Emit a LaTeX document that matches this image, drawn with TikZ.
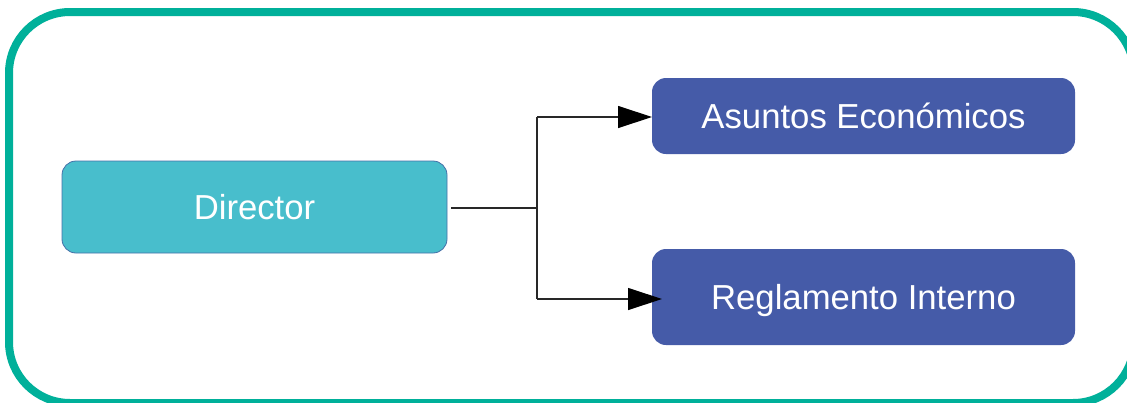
\documentclass[tikz,border=0pt]{standalone}
\usepackage{fontspec}
\setmainfont{Liberation Sans}
\usetikzlibrary{arrows.meta}
\definecolor{frameteal}{RGB}{0,176,154}
\definecolor{directorfill}{RGB}{72,190,204}
\definecolor{directorline}{RGB}{70,112,168}
\definecolor{unitblue}{RGB}{69,91,168}
\definecolor{linkgray}{RGB}{40,40,40}
\tikzset{
  boxbase/.style={rectangle, rounded corners=14pt, inner sep=0pt, outer sep=0pt,
    text=white, font=\fontsize{34.7}{40}\selectfont},
  directorbox/.style={boxbase, fill=directorfill, draw=directorline, line width=0.8pt,
    minimum width=385pt, minimum height=92pt},
  unitbox/.style={boxbase, fill=unitblue, minimum width=423pt},
  link/.style={draw=linkgray, line width=1.2pt},
  arrowlink/.style={link, -{Triangle[length=34pt,width=22pt,color=black,fill=black]}}
}
\begin{document}
\begin{tikzpicture}[x=1pt,y=-1pt]
  \useasboundingbox (0,0) rectangle (1127,402);
  % outer rounded frame, partly running past the page edge
  \begin{scope}
    \clip (0,0) rectangle (1127,402);
    \draw[frameteal, line width=8pt, rounded corners=61pt] (9,12) rectangle (1134,403);
  \end{scope}
  % boxes
  \node[directorbox] (dir) at (254.5,207) {Director};
  \node[unitbox, minimum height=76pt] (eco) at (863.5,116) {Asuntos Económicos};
  \node[unitbox, minimum height=96pt] (reg) at (863.5,297) {\raisebox{-4pt}[\height][\depth]{Reglamento Interno}};
  % connectors
  \coordinate (split) at (537,208);
  \coordinate (upper) at (537,117);
  \coordinate (lower) at (537,299);
  \draw[link] (451,208) -- (split);
  \draw[link] (upper) -- (lower);
  \draw[arrowlink] (upper) -- (eco.west |- upper);
  \draw[arrowlink, shorten >=-10pt] (lower) -- (reg.west |- lower);
\end{tikzpicture}
\end{document}
